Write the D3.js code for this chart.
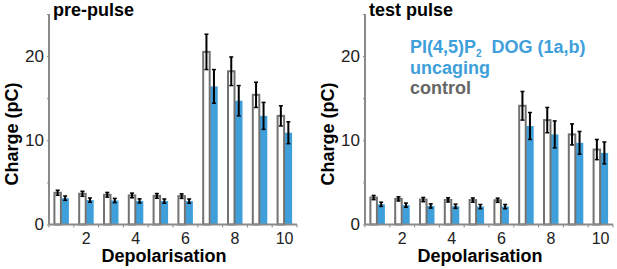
<!DOCTYPE html>
<html>
<head>
<meta charset="utf-8">
<script src="https://cdn.jsdelivr.net/npm/d3@7"></script>
<style>
  body { margin: 0; background: #fff; }
  svg { font-family: "Liberation Sans", Arial, sans-serif; display: block; }
</style>
</head>
<body>
<div id="chart"></div>
<script>
// Depolarisation steps and tick labels
var categories = [1, 2, 3, 4, 5, 6, 7, 8, 9, 10];
var xTickLabels = [2, 4, 6, 8, 10];
var yTickLabels = [0, 10, 20];

// pre-pulse charge (pC) and error
var preControl = [3.77, 3.65, 3.53, 3.45, 3.4, 3.37, 20.5, 18.2, 15.4, 12.9];
var preControlErr = [0.3, 0.3, 0.28, 0.28, 0.28, 0.27, 2.1, 1.7, 1.5, 1.2];
var preUncaging = [3.13, 2.9, 2.85, 2.8, 2.78, 2.78, 16.4, 14.7, 12.9, 10.9];
var preUncagingErr = [0.26, 0.25, 0.25, 0.25, 0.25, 0.25, 2.0, 1.8, 1.6, 1.3];

// test pulse charge (pC) and error
var testControl = [3.2, 3.04, 2.96, 2.92, 2.9, 2.88, 14.1, 12.4, 10.7, 8.9];
var testControlErr = [0.25, 0.25, 0.25, 0.25, 0.25, 0.25, 1.7, 1.5, 1.25, 1.2];
var testUncaging = [2.4, 2.3, 2.2, 2.17, 2.13, 2.13, 11.7, 10.7, 9.7, 8.5];
var testUncagingErr = [0.25, 0.25, 0.25, 0.25, 0.25, 0.25, 1.6, 1.6, 1.35, 1.3];

var seriesNames = ["control", "uncaging"];

var width = 617, height = 269;
var blue = "#3f9fdb";
var barGray = "#727272";
var axisGray = "#8a8a8a";

var svg = d3.select("#chart").append("svg")
    .attr("width", width)
    .attr("height", height);

var y = d3.scaleLinear().domain([0, 25]).range([224.5, 14]);

function drawPanel(left, title, control, controlErr, uncaging, uncagingErr) {
    var x = d3.scaleBand().domain(categories).range([left, left + 248]).padding(0);
    var inner = d3.scaleBand().domain(seriesNames)
        .range([x.bandwidth() / 2 - 7.5, x.bandwidth() / 2 + 7.5]).padding(0);

    var g = svg.append("g");

    var rows = categories.map(function (c, i) {
        return [
            { cat: c, s: "control", v: control[i], e: controlErr[i] },
            { cat: c, s: "uncaging", v: uncaging[i], e: uncagingErr[i] }
        ];
    });

    var groups = g.selectAll(".cat")
        .data(rows).enter()
        .append("g")
        .attr("transform", function (d) { return "translate(" + x(d[0].cat) + ",0)"; });

    // blue bars first, white outlined bars on top
    groups.selectAll("rect.unc")
        .data(function (d) { return [d[1]]; }).enter()
        .append("rect")
        .attr("x", function (d) { return inner(d.s); })
        .attr("y", function (d) { return y(d.v); })
        .attr("width", inner.bandwidth())
        .attr("height", function (d) { return y(0) - y(d.v); })
        .style("fill", blue);

    groups.selectAll("rect.ctl")
        .data(function (d) { return [d[0]]; }).enter()
        .append("rect")
        .attr("x", function (d) { return inner(d.s) + 0.5; })
        .attr("y", function (d) { return y(d.v); })
        .attr("width", inner.bandwidth() - 1)
        .attr("height", function (d) { return y(0) - y(d.v); })
        .style("fill", "#fff")
        .style("stroke", barGray)
        .style("stroke-width", 2);

    // error bars
    var err = groups.selectAll("g.err")
        .data(function (d) { return d; }).enter()
        .append("g")
        .attr("transform", function (d) { return "translate(" + (inner(d.s) + inner.bandwidth() / 2) + ",0)"; });

    err.append("line")
        .attr("y1", function (d) { return y(d.v - d.e); })
        .attr("y2", function (d) { return y(d.v + d.e); })
        .style("stroke", "#000")
        .style("stroke-width", 2);
    err.append("line")
        .attr("x1", -2).attr("x2", 2)
        .attr("y1", function (d) { return y(d.v + d.e); })
        .attr("y2", function (d) { return y(d.v + d.e); })
        .style("stroke", "#000").style("stroke-width", 1.5);
    err.append("line")
        .attr("x1", -2).attr("x2", 2)
        .attr("y1", function (d) { return y(d.v - d.e); })
        .attr("y2", function (d) { return y(d.v - d.e); })
        .style("stroke", "#000").style("stroke-width", 1.5);

    // y axis
    var yAxis = g.append("g")
        .attr("transform", "translate(" + left + ",0)")
        .call(d3.axisLeft(y).tickValues([0, 5, 10, 15, 20, 25]).tickSize(2)
            .tickFormat(function (d) { return yTickLabels.indexOf(d) >= 0 ? d : ""; }));
    yAxis.select(".domain").attr("d", "M0," + y(25) + "V" + y(0)).style("stroke", axisGray).style("stroke-width", 2);
    yAxis.selectAll(".tick line").style("stroke", axisGray);
    yAxis.selectAll(".tick text")
        .attr("x", -5)
        .style("font-size", "17px")
        .style("fill", "#222")
        .style("font-family", "Liberation Sans, Arial, sans-serif");

    // x axis: ticks at band edges, labels at even categories
    var xAxis = g.append("g");
    xAxis.append("line")
        .attr("x1", left).attr("x2", left + 248)
        .attr("y1", y(0)).attr("y2", y(0))
        .style("stroke", axisGray).style("stroke-width", 2);
    xAxis.selectAll(".xt")
        .data(categories.concat([11])).enter()
        .append("line")
        .attr("x1", function (d) { return d <= 10 ? x(d) : left + 248; })
        .attr("x2", function (d) { return d <= 10 ? x(d) : left + 248; })
        .attr("y1", y(0)).attr("y2", y(0) + 3)
        .style("stroke", axisGray);
    xAxis.selectAll(".xl")
        .data(xTickLabels).enter()
        .append("text")
        .attr("x", function (d) { return x(d) + x.bandwidth() / 2; })
        .attr("y", 244)
        .attr("text-anchor", "middle")
        .style("font-size", "16px")
        .style("fill", "#222")
        .text(function (d) { return d; });

    // titles
    g.append("text")
        .attr("x", left + 4).attr("y", 16)
        .style("font-size", "18px").style("font-weight", "bold")
        .text(title);
    g.append("text")
        .attr("x", left + 115).attr("y", 262)
        .attr("text-anchor", "middle")
        .style("font-size", "18px").style("font-weight", "bold")
        .text("Depolarisation");
    g.append("text")
        .attr("transform", "translate(" + (left - 31) + "," + 134 + ") rotate(-90)")
        .attr("text-anchor", "middle")
        .style("font-size", "18px").style("font-weight", "bold")
        .text("Charge (pC)");
    return g;
}

drawPanel(49, "pre-pulse", preControl, preControlErr, preUncaging, preUncagingErr);
var right = drawPanel(365, "test pulse", testControl, testControlErr, testUncaging, testUncagingErr);

// legend
var leg = right.append("text")
    .attr("x", 410).attr("y", 53)
    .style("font-size", "18px").style("font-weight", "bold")
    .style("fill", blue)
    .style("white-space", "pre");
leg.append("tspan").text("PI(4,5)P");
leg.append("tspan").attr("dy", 4).style("font-size", "10px").text("2");
leg.append("tspan").attr("dy", -4).text("  DOG (1a,b)");

right.append("text")
    .attr("x", 410).attr("y", 74)
    .style("font-size", "18px").style("font-weight", "bold")
    .style("fill", blue)
    .text("uncaging");
right.append("text")
    .attr("x", 410).attr("y", 94)
    .style("font-size", "18px").style("font-weight", "bold")
    .style("fill", "#666")
    .text("control");
</script>
</body>
</html>
